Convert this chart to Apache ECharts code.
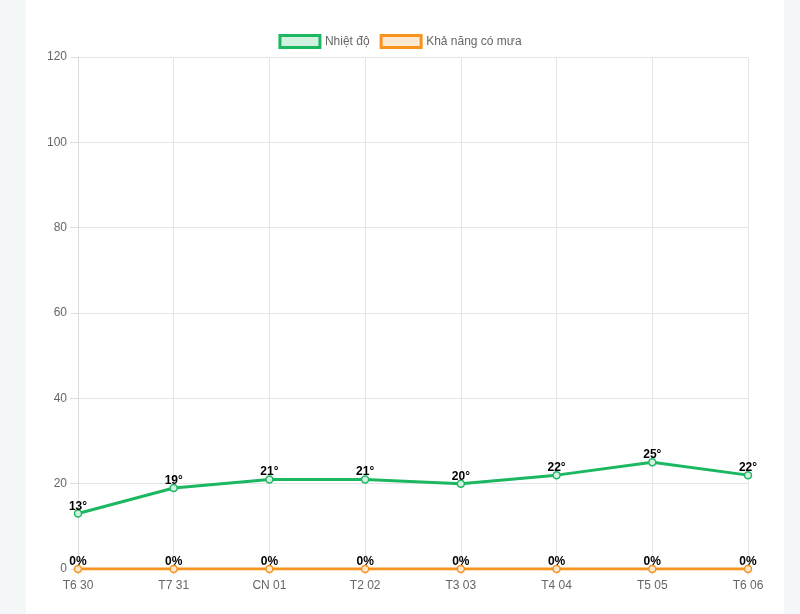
<!DOCTYPE html>
<html><head><meta charset="utf-8">
<script src="https://cdn.jsdelivr.net/npm/echarts@6/dist/echarts.min.js"></script>
<style>
html,body{margin:0;padding:0;background:#f4f7f8;}
#card{position:absolute;left:26px;top:0;width:758px;height:614px;background:#fff;}
#chart{position:absolute;left:0;top:0;width:800px;height:614px;}
</style></head>
<body><div id="card"></div><div id="chart"></div>
<script>
const categories = ['T6 30','T7 31','CN 01','T2 02','T3 03','T4 04','T5 05','T6 06'];
const temperature = [13,19,21,21,20,22,25,22];
const rainChance = [0,0,0,0,0,0,0,0];
const yTicks = [0,20,40,60,80,100,120];

const green = '#1cb861', greenFill = '#d2f1e0';
const orange = '#f7931e', orangeFill = '#fde9d2';
const font = 'Liberation Sans, Arial, sans-serif';

const chart = echarts.init(document.getElementById('chart'));
chart.setOption({
  animation:false,
  textStyle:{fontFamily:font},
  legend:{
    top:29, left:'center', itemWidth:40, itemHeight:12, itemGap:10, icon:'rect',
    textStyle:{color:'#666', fontSize:12, fontFamily:font},
    data:[
      {name:'Nhiệt độ', itemStyle:{color:greenFill, borderColor:green, borderWidth:3}},
      {name:'Khả năng có mưa', itemStyle:{color:orangeFill, borderColor:orange, borderWidth:3}}
    ]
  },
  grid:{left:78, right:52, top:57, bottom:45, containLabel:false},
  xAxis:{
    type:'category', data:categories, boundaryGap:false,
    axisLine:{show:false},
    axisTick:{show:true, length:6, lineStyle:{color:'#e5e5e5'}},
    axisLabel:{color:'#666', fontSize:12, margin:11, fontFamily:font},
    splitLine:{show:true, lineStyle:{color:'#e5e5e5'}}
  },
  yAxis:{
    type:'value', min:yTicks[0], max:yTicks[yTicks.length-1], interval:20,
    axisLine:{show:true, lineStyle:{color:'#dcdcdc'}},
    axisTick:{show:true, length:8, lineStyle:{color:'#dcdcdc'}},
    axisLabel:{color:'#666', fontSize:12, margin:11, fontFamily:font},
    splitLine:{show:true, lineStyle:{color:'#e5e5e5'}}
  },
  series:[
    {
      name:'Nhiệt độ', type:'line', data:temperature,
      symbol:'circle', symbolSize:7,
      lineStyle:{color:green, width:3},
      itemStyle:{color:greenFill, borderColor:green, borderWidth:1.5},
      label:{show:true, position:'top', distance:-3, formatter:p=>p.value+'°', color:'#000', fontWeight:'bold', fontSize:12, fontFamily:font},
      z:3
    },
    {
      name:'Khả năng có mưa', type:'line', data:rainChance,
      symbol:'circle', symbolSize:7,
      lineStyle:{color:orange, width:3},
      itemStyle:{color:orangeFill, borderColor:orange, borderWidth:1.5},
      label:{show:true, position:'top', distance:-3, formatter:p=>p.value+'%', color:'#000', fontWeight:'bold', fontSize:12, fontFamily:font},
      z:4
    }
  ]
});
</script></body></html>
